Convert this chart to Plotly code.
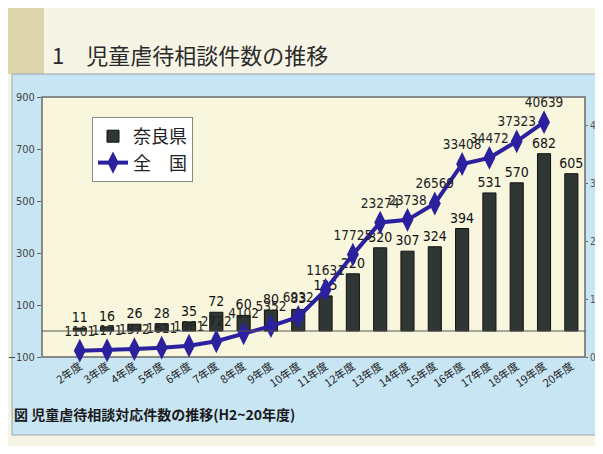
import plotly.graph_objects as go

years = ["2年度", "3年度", "4年度", "5年度", "6年度", "7年度", "8年度", "9年度", "10年度",
         "11年度", "12年度", "13年度", "14年度", "15年度", "16年度", "17年度", "18年度", "19年度", "20年度"]
nara = [11, 16, 26, 28, 35, 72, 60, 80, 83, 135, 220, 320, 307, 324, 394, 531, 570, 682, 605]
national_years = years[:18]
national = [1101, 1171, 1372, 1611, 1961, 2722, 4102, 5352, 6932, 11631, 17725,
            23274, 23738, 26569, 33408, 34472, 37323, 40639]

OFF = 8  # page body margin
W, H = 603 - OFF, 454 - 2 * OFF
L, T = 42 - OFF, 97 - OFF
R = W - (585 - OFF)
B = H - (357 - OFF)
PW, PH = W - L - R, H - T - B


def px(x):
    return (x - OFF - L) / PW


def py(y):
    return (H - B - (y - OFF)) / PH


NARROW = "DejaVu Sans Condensed, Liberation Sans Narrow, Arial Narrow, sans-serif"
JP = "Noto Sans CJK JP"

fig = go.Figure()
fig.add_bar(
    x=years, y=nara, name="奈良県", text=nara, textposition="outside",
    constraintext="none",
    marker=dict(color="#2e3733", line=dict(color="#111111", width=1)),
    width=0.48, cliponaxis=False,
    textfont=dict(family=NARROW, size=14, color="#111111"),
)
fig.add_scatter(
    x=national_years, y=national, name="全　国", yaxis="y2",
    mode="lines+markers+text", text=national, textposition="top center",
    line=dict(color="#2b209e", width=4),
    marker=dict(symbol="diamond-tall", size=17, color="#2b209e"),
    textfont=dict(family=NARROW, size=13.5, color="#222222"), cliponaxis=False,
)

shapes = [
    dict(type="rect", xref="paper", yref="paper", x0=px(8), x1=px(610), y0=py(460), y1=py(8),
         fillcolor="#f6f4e4", line=dict(width=0), layer="below"),
    dict(type="rect", xref="paper", yref="paper", x0=px(8), x1=px(44), y0=py(74), y1=py(8),
         fillcolor="#dcd4ab", line=dict(width=0), layer="below"),
    dict(type="rect", xref="paper", yref="paper", x0=px(12), x1=px(610), y0=py(435), y1=py(74),
         fillcolor="#c8e5f4", line=dict(color="#9aa6ad", width=1), layer="below"),
    dict(type="rect", xref="paper", yref="paper", x0=0, x1=1, y0=0, y1=1,
         fillcolor="#f8f6dc", line=dict(color="#6a6a6a", width=1.5), layer="below"),
    dict(type="line", xref="paper", yref="y", x0=0, x1=1, y0=0, y1=0,
         line=dict(color="#555555", width=1)),
]

annotations = [
    dict(text="1　児童虐待相談件数の推移", xref="paper", yref="paper", x=px(50), y=py(54),
         xanchor="left", yanchor="middle", showarrow=False,
         font=dict(family=JP, size=22, color="#2a2a2a")),
    dict(text="<b>図 児童虐待相談対応件数の推移(H2~20年度)</b>", xref="paper", yref="paper",
         x=px(12), y=py(414), xanchor="left", yanchor="middle", showarrow=False,
         font=dict(family=JP, size=14, color="#1a1a1a")),
]

fig.update_layout(
    width=W, height=H,
    margin=dict(l=L, r=R, t=T, b=B),
    paper_bgcolor="#f6f4e4", plot_bgcolor="rgba(0,0,0,0)",
    shapes=shapes, annotations=annotations,
    showlegend=True,
    legend=dict(x=px(92), y=py(117), xanchor="left", yanchor="top",
                bgcolor="white", bordercolor="#888888", borderwidth=1,
                font=dict(family=JP, size=18, color="#222222"),
                itemwidth=30, tracegroupgap=16),
    xaxis=dict(type="category", tickangle=-35, showgrid=False, showline=False,
               ticks="", tickfont=dict(family=JP, size=11, color="#222222"),
               automargin=False),
    yaxis=dict(range=[-100, 900], dtick=200, tick0=-100, showgrid=False, zeroline=False,
               ticks="outside", ticklen=4, tickcolor="#666666", showline=False,
               tickfont=dict(family=NARROW, size=11, color="#444444"), automargin=False),
    yaxis2=dict(range=[0, 45000], dtick=10000, overlaying="y", side="right", showgrid=False,
                zeroline=False, ticks="outside", ticklen=2, tickcolor="#666666",
                tickfont=dict(family=NARROW, size=10, color="#555555"), automargin=False),
    bargap=0.5,
)

fig.write_html("out.html")
